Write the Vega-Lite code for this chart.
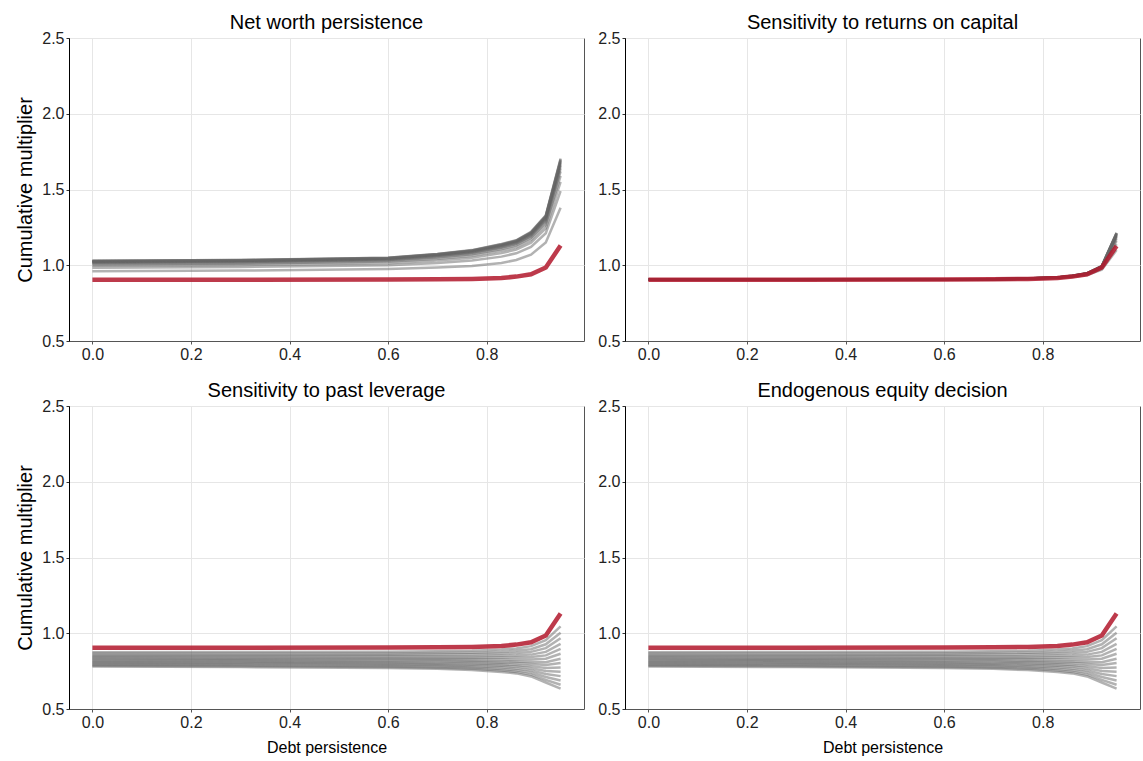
{
  "$schema": "https://vega.github.io/schema/vega-lite/v6.json",
  "padding": {"left": 15, "top": 12, "right": 3, "bottom": 3},
  "background": "white",
  "config": {
    "font": "Liberation Sans",
    "view": {"stroke": "#555555", "strokeWidth": 1},
    "axis": {"grid": true, "gridColor": "#e6e6e6", "gridWidth": 1, "labelFont": "Liberation Sans", "labelFontSize": 16, "labelColor": "#222222", "tickSize": 3, "labelPadding": 2, "titleFont": "Liberation Sans", "titleFontSize": 20, "titleFontWeight": "normal", "titleColor": "#000000", "titlePadding": 6},
    "title": {"font": "Liberation Sans", "fontSize": 20, "fontWeight": "normal", "anchor": "middle", "offset": -3, "color": "#000000"}
  },
  "datasets": {
    "red": [
      {"p":1,"x":0,"y":0.905},{"p":1,"x":0.3,"y":0.905},{"p":1,"x":0.6,"y":0.906},{"p":1,"x":0.7,"y":0.907},{"p":1,"x":0.77,"y":0.91},{"p":1,"x":0.83,"y":0.916},{"p":1,"x":0.86,"y":0.925},{"p":1,"x":0.89,"y":0.94},{"p":1,"x":0.92,"y":0.985},{"p":1,"x":0.95,"y":1.13},
      {"p":2,"x":0,"y":0.905},{"p":2,"x":0.3,"y":0.905},{"p":2,"x":0.6,"y":0.906},{"p":2,"x":0.7,"y":0.907},{"p":2,"x":0.77,"y":0.91},{"p":2,"x":0.83,"y":0.916},{"p":2,"x":0.86,"y":0.925},{"p":2,"x":0.89,"y":0.94},{"p":2,"x":0.92,"y":0.985},{"p":2,"x":0.95,"y":1.127},
      {"p":3,"x":0,"y":0.905},{"p":3,"x":0.3,"y":0.905},{"p":3,"x":0.6,"y":0.906},{"p":3,"x":0.7,"y":0.907},{"p":3,"x":0.77,"y":0.91},{"p":3,"x":0.83,"y":0.916},{"p":3,"x":0.86,"y":0.925},{"p":3,"x":0.89,"y":0.94},{"p":3,"x":0.92,"y":0.985},{"p":3,"x":0.95,"y":1.13},
      {"p":4,"x":0,"y":0.905},{"p":4,"x":0.3,"y":0.905},{"p":4,"x":0.6,"y":0.906},{"p":4,"x":0.7,"y":0.907},{"p":4,"x":0.77,"y":0.91},{"p":4,"x":0.83,"y":0.916},{"p":4,"x":0.86,"y":0.925},{"p":4,"x":0.89,"y":0.94},{"p":4,"x":0.92,"y":0.985},{"p":4,"x":0.95,"y":1.13}
    ],
    "gray": [
      {"p":1,"s":1,"x":0,"y":0.96},{"p":1,"s":1,"x":0.3,"y":0.965},{"p":1,"s":1,"x":0.6,"y":0.975},{"p":1,"s":1,"x":0.7,"y":0.985},{"p":1,"s":1,"x":0.77,"y":0.995},{"p":1,"s":1,"x":0.83,"y":1.015},{"p":1,"s":1,"x":0.86,"y":1.035},{"p":1,"s":1,"x":0.89,"y":1.07},{"p":1,"s":1,"x":0.92,"y":1.15},{"p":1,"s":1,"x":0.95,"y":1.38},
      {"p":1,"s":2,"x":0,"y":0.984},{"p":1,"s":2,"x":0.3,"y":0.989},{"p":1,"s":2,"x":0.6,"y":1.0},{"p":1,"s":2,"x":0.7,"y":1.015},{"p":1,"s":2,"x":0.77,"y":1.031},{"p":1,"s":2,"x":0.83,"y":1.057},{"p":1,"s":2,"x":0.86,"y":1.079},{"p":1,"s":2,"x":0.89,"y":1.121},{"p":1,"s":2,"x":0.92,"y":1.211},{"p":1,"s":2,"x":0.95,"y":1.49},
      {"p":1,"s":3,"x":0,"y":0.997},{"p":1,"s":3,"x":0.3,"y":1.002},{"p":1,"s":3,"x":0.6,"y":1.014},{"p":1,"s":3,"x":0.7,"y":1.032},{"p":1,"s":3,"x":0.77,"y":1.05},{"p":1,"s":3,"x":0.83,"y":1.08},{"p":1,"s":3,"x":0.86,"y":1.103},{"p":1,"s":3,"x":0.89,"y":1.149},{"p":1,"s":3,"x":0.92,"y":1.244},{"p":1,"s":3,"x":0.95,"y":1.55},
      {"p":1,"s":4,"x":0,"y":1.005},{"p":1,"s":4,"x":0.3,"y":1.01},{"p":1,"s":4,"x":0.6,"y":1.024},{"p":1,"s":4,"x":0.7,"y":1.043},{"p":1,"s":4,"x":0.77,"y":1.063},{"p":1,"s":4,"x":0.83,"y":1.096},{"p":1,"s":4,"x":0.86,"y":1.119},{"p":1,"s":4,"x":0.89,"y":1.167},{"p":1,"s":4,"x":0.92,"y":1.266},{"p":1,"s":4,"x":0.95,"y":1.59},
      {"p":1,"s":5,"x":0,"y":1.012},{"p":1,"s":5,"x":0.3,"y":1.017},{"p":1,"s":5,"x":0.6,"y":1.03},{"p":1,"s":5,"x":0.7,"y":1.051},{"p":1,"s":5,"x":0.77,"y":1.073},{"p":1,"s":5,"x":0.83,"y":1.107},{"p":1,"s":5,"x":0.86,"y":1.131},{"p":1,"s":5,"x":0.89,"y":1.181},{"p":1,"s":5,"x":0.92,"y":1.283},{"p":1,"s":5,"x":0.95,"y":1.62},
      {"p":1,"s":6,"x":0,"y":1.016},{"p":1,"s":6,"x":0.3,"y":1.021},{"p":1,"s":6,"x":0.6,"y":1.035},{"p":1,"s":6,"x":0.7,"y":1.057},{"p":1,"s":6,"x":0.77,"y":1.079},{"p":1,"s":6,"x":0.83,"y":1.115},{"p":1,"s":6,"x":0.86,"y":1.139},{"p":1,"s":6,"x":0.89,"y":1.19},{"p":1,"s":6,"x":0.92,"y":1.294},{"p":1,"s":6,"x":0.95,"y":1.64},
      {"p":1,"s":7,"x":0,"y":1.019},{"p":1,"s":7,"x":0.3,"y":1.024},{"p":1,"s":7,"x":0.6,"y":1.039},{"p":1,"s":7,"x":0.7,"y":1.061},{"p":1,"s":7,"x":0.77,"y":1.084},{"p":1,"s":7,"x":0.83,"y":1.121},{"p":1,"s":7,"x":0.86,"y":1.145},{"p":1,"s":7,"x":0.89,"y":1.197},{"p":1,"s":7,"x":0.92,"y":1.302},{"p":1,"s":7,"x":0.95,"y":1.655},
      {"p":1,"s":8,"x":0,"y":1.021},{"p":1,"s":8,"x":0.3,"y":1.026},{"p":1,"s":8,"x":0.6,"y":1.041},{"p":1,"s":8,"x":0.7,"y":1.064},{"p":1,"s":8,"x":0.77,"y":1.087},{"p":1,"s":8,"x":0.83,"y":1.125},{"p":1,"s":8,"x":0.86,"y":1.149},{"p":1,"s":8,"x":0.89,"y":1.202},{"p":1,"s":8,"x":0.92,"y":1.308},{"p":1,"s":8,"x":0.95,"y":1.665},
      {"p":1,"s":9,"x":0,"y":1.024},{"p":1,"s":9,"x":0.3,"y":1.029},{"p":1,"s":9,"x":0.6,"y":1.043},{"p":1,"s":9,"x":0.7,"y":1.067},{"p":1,"s":9,"x":0.77,"y":1.09},{"p":1,"s":9,"x":0.83,"y":1.129},{"p":1,"s":9,"x":0.86,"y":1.153},{"p":1,"s":9,"x":0.89,"y":1.206},{"p":1,"s":9,"x":0.92,"y":1.313},{"p":1,"s":9,"x":0.95,"y":1.675},
      {"p":1,"s":10,"x":0,"y":1.025},{"p":1,"s":10,"x":0.3,"y":1.03},{"p":1,"s":10,"x":0.6,"y":1.045},{"p":1,"s":10,"x":0.7,"y":1.069},{"p":1,"s":10,"x":0.77,"y":1.093},{"p":1,"s":10,"x":0.83,"y":1.132},{"p":1,"s":10,"x":0.86,"y":1.156},{"p":1,"s":10,"x":0.89,"y":1.21},{"p":1,"s":10,"x":0.92,"y":1.318},{"p":1,"s":10,"x":0.95,"y":1.683},
      {"p":1,"s":11,"x":0,"y":1.027},{"p":1,"s":11,"x":0.3,"y":1.032},{"p":1,"s":11,"x":0.6,"y":1.047},{"p":1,"s":11,"x":0.7,"y":1.071},{"p":1,"s":11,"x":0.77,"y":1.095},{"p":1,"s":11,"x":0.83,"y":1.134},{"p":1,"s":11,"x":0.86,"y":1.159},{"p":1,"s":11,"x":0.89,"y":1.213},{"p":1,"s":11,"x":0.92,"y":1.322},{"p":1,"s":11,"x":0.95,"y":1.69},
      {"p":1,"s":12,"x":0,"y":1.028},{"p":1,"s":12,"x":0.3,"y":1.033},{"p":1,"s":12,"x":0.6,"y":1.048},{"p":1,"s":12,"x":0.7,"y":1.072},{"p":1,"s":12,"x":0.77,"y":1.097},{"p":1,"s":12,"x":0.83,"y":1.136},{"p":1,"s":12,"x":0.86,"y":1.161},{"p":1,"s":12,"x":0.89,"y":1.215},{"p":1,"s":12,"x":0.92,"y":1.324},{"p":1,"s":12,"x":0.95,"y":1.695},
      {"p":1,"s":13,"x":0,"y":1.029},{"p":1,"s":13,"x":0.3,"y":1.034},{"p":1,"s":13,"x":0.6,"y":1.049},{"p":1,"s":13,"x":0.7,"y":1.074},{"p":1,"s":13,"x":0.77,"y":1.098},{"p":1,"s":13,"x":0.83,"y":1.138},{"p":1,"s":13,"x":0.86,"y":1.163},{"p":1,"s":13,"x":0.89,"y":1.218},{"p":1,"s":13,"x":0.92,"y":1.327},{"p":1,"s":13,"x":0.95,"y":1.7},
      {"p":1,"s":14,"x":0,"y":1.03},{"p":1,"s":14,"x":0.3,"y":1.035},{"p":1,"s":14,"x":0.6,"y":1.05},{"p":1,"s":14,"x":0.7,"y":1.075},{"p":1,"s":14,"x":0.77,"y":1.1},{"p":1,"s":14,"x":0.83,"y":1.14},{"p":1,"s":14,"x":0.86,"y":1.165},{"p":1,"s":14,"x":0.89,"y":1.22},{"p":1,"s":14,"x":0.92,"y":1.33},{"p":1,"s":14,"x":0.95,"y":1.705},

      {"p":2,"s":1,"x":0,"y":0.905},{"p":2,"s":1,"x":0.3,"y":0.905},{"p":2,"s":1,"x":0.6,"y":0.906},{"p":2,"s":1,"x":0.7,"y":0.907},{"p":2,"s":1,"x":0.77,"y":0.91},{"p":2,"s":1,"x":0.83,"y":0.915},{"p":2,"s":1,"x":0.86,"y":0.922},{"p":2,"s":1,"x":0.89,"y":0.935},{"p":2,"s":1,"x":0.92,"y":0.97},{"p":2,"s":1,"x":0.95,"y":1.1},
      {"p":2,"s":2,"x":0,"y":0.905},{"p":2,"s":2,"x":0.3,"y":0.905},{"p":2,"s":2,"x":0.6,"y":0.906},{"p":2,"s":2,"x":0.7,"y":0.907},{"p":2,"s":2,"x":0.77,"y":0.911},{"p":2,"s":2,"x":0.83,"y":0.917},{"p":2,"s":2,"x":0.86,"y":0.925},{"p":2,"s":2,"x":0.89,"y":0.939},{"p":2,"s":2,"x":0.92,"y":0.979},{"p":2,"s":2,"x":0.95,"y":1.139},
      {"p":2,"s":3,"x":0,"y":0.905},{"p":2,"s":3,"x":0.3,"y":0.905},{"p":2,"s":3,"x":0.6,"y":0.906},{"p":2,"s":3,"x":0.7,"y":0.908},{"p":2,"s":3,"x":0.77,"y":0.911},{"p":2,"s":3,"x":0.83,"y":0.918},{"p":2,"s":3,"x":0.86,"y":0.926},{"p":2,"s":3,"x":0.89,"y":0.941},{"p":2,"s":3,"x":0.92,"y":0.983},{"p":2,"s":3,"x":0.95,"y":1.16},
      {"p":2,"s":4,"x":0,"y":0.905},{"p":2,"s":4,"x":0.3,"y":0.905},{"p":2,"s":4,"x":0.6,"y":0.906},{"p":2,"s":4,"x":0.7,"y":0.908},{"p":2,"s":4,"x":0.77,"y":0.911},{"p":2,"s":4,"x":0.83,"y":0.918},{"p":2,"s":4,"x":0.86,"y":0.927},{"p":2,"s":4,"x":0.89,"y":0.943},{"p":2,"s":4,"x":0.92,"y":0.986},{"p":2,"s":4,"x":0.95,"y":1.174},
      {"p":2,"s":5,"x":0,"y":0.905},{"p":2,"s":5,"x":0.3,"y":0.905},{"p":2,"s":5,"x":0.6,"y":0.906},{"p":2,"s":5,"x":0.7,"y":0.908},{"p":2,"s":5,"x":0.77,"y":0.912},{"p":2,"s":5,"x":0.83,"y":0.919},{"p":2,"s":5,"x":0.86,"y":0.928},{"p":2,"s":5,"x":0.89,"y":0.944},{"p":2,"s":5,"x":0.92,"y":0.989},{"p":2,"s":5,"x":0.95,"y":1.185},
      {"p":2,"s":6,"x":0,"y":0.905},{"p":2,"s":6,"x":0.3,"y":0.905},{"p":2,"s":6,"x":0.6,"y":0.906},{"p":2,"s":6,"x":0.7,"y":0.908},{"p":2,"s":6,"x":0.77,"y":0.912},{"p":2,"s":6,"x":0.83,"y":0.919},{"p":2,"s":6,"x":0.86,"y":0.928},{"p":2,"s":6,"x":0.89,"y":0.945},{"p":2,"s":6,"x":0.92,"y":0.99},{"p":2,"s":6,"x":0.95,"y":1.192},
      {"p":2,"s":7,"x":0,"y":0.905},{"p":2,"s":7,"x":0.3,"y":0.905},{"p":2,"s":7,"x":0.6,"y":0.906},{"p":2,"s":7,"x":0.7,"y":0.908},{"p":2,"s":7,"x":0.77,"y":0.912},{"p":2,"s":7,"x":0.83,"y":0.919},{"p":2,"s":7,"x":0.86,"y":0.929},{"p":2,"s":7,"x":0.89,"y":0.945},{"p":2,"s":7,"x":0.92,"y":0.991},{"p":2,"s":7,"x":0.95,"y":1.197},
      {"p":2,"s":8,"x":0,"y":0.905},{"p":2,"s":8,"x":0.3,"y":0.905},{"p":2,"s":8,"x":0.6,"y":0.906},{"p":2,"s":8,"x":0.7,"y":0.908},{"p":2,"s":8,"x":0.77,"y":0.912},{"p":2,"s":8,"x":0.83,"y":0.919},{"p":2,"s":8,"x":0.86,"y":0.929},{"p":2,"s":8,"x":0.89,"y":0.946},{"p":2,"s":8,"x":0.92,"y":0.992},{"p":2,"s":8,"x":0.95,"y":1.201},
      {"p":2,"s":9,"x":0,"y":0.905},{"p":2,"s":9,"x":0.3,"y":0.905},{"p":2,"s":9,"x":0.6,"y":0.906},{"p":2,"s":9,"x":0.7,"y":0.908},{"p":2,"s":9,"x":0.77,"y":0.912},{"p":2,"s":9,"x":0.83,"y":0.92},{"p":2,"s":9,"x":0.86,"y":0.929},{"p":2,"s":9,"x":0.89,"y":0.946},{"p":2,"s":9,"x":0.92,"y":0.993},{"p":2,"s":9,"x":0.95,"y":1.204},
      {"p":2,"s":10,"x":0,"y":0.905},{"p":2,"s":10,"x":0.3,"y":0.905},{"p":2,"s":10,"x":0.6,"y":0.906},{"p":2,"s":10,"x":0.7,"y":0.908},{"p":2,"s":10,"x":0.77,"y":0.912},{"p":2,"s":10,"x":0.83,"y":0.92},{"p":2,"s":10,"x":0.86,"y":0.929},{"p":2,"s":10,"x":0.89,"y":0.946},{"p":2,"s":10,"x":0.92,"y":0.993},{"p":2,"s":10,"x":0.95,"y":1.207},
      {"p":2,"s":11,"x":0,"y":0.905},{"p":2,"s":11,"x":0.3,"y":0.905},{"p":2,"s":11,"x":0.6,"y":0.906},{"p":2,"s":11,"x":0.7,"y":0.908},{"p":2,"s":11,"x":0.77,"y":0.912},{"p":2,"s":11,"x":0.83,"y":0.92},{"p":2,"s":11,"x":0.86,"y":0.93},{"p":2,"s":11,"x":0.89,"y":0.946},{"p":2,"s":11,"x":0.92,"y":0.994},{"p":2,"s":11,"x":0.95,"y":1.21},
      {"p":2,"s":12,"x":0,"y":0.905},{"p":2,"s":12,"x":0.3,"y":0.905},{"p":2,"s":12,"x":0.6,"y":0.906},{"p":2,"s":12,"x":0.7,"y":0.908},{"p":2,"s":12,"x":0.77,"y":0.912},{"p":2,"s":12,"x":0.83,"y":0.92},{"p":2,"s":12,"x":0.86,"y":0.93},{"p":2,"s":12,"x":0.89,"y":0.947},{"p":2,"s":12,"x":0.92,"y":0.994},{"p":2,"s":12,"x":0.95,"y":1.211},
      {"p":2,"s":13,"x":0,"y":0.905},{"p":2,"s":13,"x":0.3,"y":0.905},{"p":2,"s":13,"x":0.6,"y":0.906},{"p":2,"s":13,"x":0.7,"y":0.908},{"p":2,"s":13,"x":0.77,"y":0.912},{"p":2,"s":13,"x":0.83,"y":0.92},{"p":2,"s":13,"x":0.86,"y":0.93},{"p":2,"s":13,"x":0.89,"y":0.947},{"p":2,"s":13,"x":0.92,"y":0.995},{"p":2,"s":13,"x":0.95,"y":1.213},
      {"p":2,"s":14,"x":0,"y":0.905},{"p":2,"s":14,"x":0.3,"y":0.905},{"p":2,"s":14,"x":0.6,"y":0.906},{"p":2,"s":14,"x":0.7,"y":0.908},{"p":2,"s":14,"x":0.77,"y":0.912},{"p":2,"s":14,"x":0.83,"y":0.92},{"p":2,"s":14,"x":0.86,"y":0.93},{"p":2,"s":14,"x":0.89,"y":0.947},{"p":2,"s":14,"x":0.92,"y":0.995},{"p":2,"s":14,"x":0.95,"y":1.215},

      {"p":3,"s":1,"x":0,"y":0.875},{"p":3,"s":1,"x":0.3,"y":0.876},{"p":3,"s":1,"x":0.6,"y":0.878},{"p":3,"s":1,"x":0.7,"y":0.881},{"p":3,"s":1,"x":0.77,"y":0.885},{"p":3,"s":1,"x":0.83,"y":0.893},{"p":3,"s":1,"x":0.86,"y":0.9},{"p":3,"s":1,"x":0.89,"y":0.915},{"p":3,"s":1,"x":0.92,"y":0.955},{"p":3,"s":1,"x":0.95,"y":1.045},
      {"p":3,"s":2,"x":0,"y":0.866},{"p":3,"s":2,"x":0.3,"y":0.866},{"p":3,"s":2,"x":0.6,"y":0.867},{"p":3,"s":2,"x":0.7,"y":0.869},{"p":3,"s":2,"x":0.77,"y":0.872},{"p":3,"s":2,"x":0.83,"y":0.878},{"p":3,"s":2,"x":0.86,"y":0.884},{"p":3,"s":2,"x":0.89,"y":0.895},{"p":3,"s":2,"x":0.92,"y":0.927},{"p":3,"s":2,"x":0.95,"y":1.004},
      {"p":3,"s":3,"x":0,"y":0.857},{"p":3,"s":3,"x":0.3,"y":0.857},{"p":3,"s":3,"x":0.6,"y":0.858},{"p":3,"s":3,"x":0.7,"y":0.859},{"p":3,"s":3,"x":0.77,"y":0.861},{"p":3,"s":3,"x":0.83,"y":0.865},{"p":3,"s":3,"x":0.86,"y":0.869},{"p":3,"s":3,"x":0.89,"y":0.877},{"p":3,"s":3,"x":0.92,"y":0.902},{"p":3,"s":3,"x":0.95,"y":0.967},
      {"p":3,"s":4,"x":0,"y":0.848},{"p":3,"s":4,"x":0.3,"y":0.848},{"p":3,"s":4,"x":0.6,"y":0.848},{"p":3,"s":4,"x":0.7,"y":0.849},{"p":3,"s":4,"x":0.77,"y":0.849},{"p":3,"s":4,"x":0.83,"y":0.852},{"p":3,"s":4,"x":0.86,"y":0.854},{"p":3,"s":4,"x":0.89,"y":0.859},{"p":3,"s":4,"x":0.92,"y":0.877},{"p":3,"s":4,"x":0.95,"y":0.93},
      {"p":3,"s":5,"x":0,"y":0.841},{"p":3,"s":5,"x":0.3,"y":0.84},{"p":3,"s":5,"x":0.6,"y":0.839},{"p":3,"s":5,"x":0.7,"y":0.839},{"p":3,"s":5,"x":0.77,"y":0.839},{"p":3,"s":5,"x":0.83,"y":0.84},{"p":3,"s":5,"x":0.86,"y":0.841},{"p":3,"s":5,"x":0.89,"y":0.843},{"p":3,"s":5,"x":0.92,"y":0.854},{"p":3,"s":5,"x":0.95,"y":0.897},
      {"p":3,"s":6,"x":0,"y":0.833},{"p":3,"s":6,"x":0.3,"y":0.832},{"p":3,"s":6,"x":0.6,"y":0.831},{"p":3,"s":6,"x":0.7,"y":0.83},{"p":3,"s":6,"x":0.77,"y":0.829},{"p":3,"s":6,"x":0.83,"y":0.828},{"p":3,"s":6,"x":0.86,"y":0.827},{"p":3,"s":6,"x":0.89,"y":0.827},{"p":3,"s":6,"x":0.92,"y":0.832},{"p":3,"s":6,"x":0.95,"y":0.865},
      {"p":3,"s":7,"x":0,"y":0.826},{"p":3,"s":7,"x":0.3,"y":0.825},{"p":3,"s":7,"x":0.6,"y":0.822},{"p":3,"s":7,"x":0.7,"y":0.821},{"p":3,"s":7,"x":0.77,"y":0.818},{"p":3,"s":7,"x":0.83,"y":0.816},{"p":3,"s":7,"x":0.86,"y":0.814},{"p":3,"s":7,"x":0.89,"y":0.811},{"p":3,"s":7,"x":0.92,"y":0.809},{"p":3,"s":7,"x":0.95,"y":0.832},
      {"p":3,"s":8,"x":0,"y":0.819},{"p":3,"s":8,"x":0.3,"y":0.818},{"p":3,"s":8,"x":0.6,"y":0.814},{"p":3,"s":8,"x":0.7,"y":0.813},{"p":3,"s":8,"x":0.77,"y":0.81},{"p":3,"s":8,"x":0.83,"y":0.806},{"p":3,"s":8,"x":0.86,"y":0.803},{"p":3,"s":8,"x":0.89,"y":0.797},{"p":3,"s":8,"x":0.92,"y":0.79},{"p":3,"s":8,"x":0.95,"y":0.803},
      {"p":3,"s":9,"x":0,"y":0.812},{"p":3,"s":9,"x":0.3,"y":0.811},{"p":3,"s":9,"x":0.6,"y":0.807},{"p":3,"s":9,"x":0.7,"y":0.804},{"p":3,"s":9,"x":0.77,"y":0.801},{"p":3,"s":9,"x":0.83,"y":0.795},{"p":3,"s":9,"x":0.86,"y":0.791},{"p":3,"s":9,"x":0.89,"y":0.783},{"p":3,"s":9,"x":0.92,"y":0.77},{"p":3,"s":9,"x":0.95,"y":0.774},
      {"p":3,"s":10,"x":0,"y":0.806},{"p":3,"s":10,"x":0.3,"y":0.804},{"p":3,"s":10,"x":0.6,"y":0.799},{"p":3,"s":10,"x":0.7,"y":0.796},{"p":3,"s":10,"x":0.77,"y":0.792},{"p":3,"s":10,"x":0.83,"y":0.785},{"p":3,"s":10,"x":0.86,"y":0.78},{"p":3,"s":10,"x":0.89,"y":0.769},{"p":3,"s":10,"x":0.92,"y":0.751},{"p":3,"s":10,"x":0.95,"y":0.746},
      {"p":3,"s":11,"x":0,"y":0.799},{"p":3,"s":11,"x":0.3,"y":0.797},{"p":3,"s":11,"x":0.6,"y":0.792},{"p":3,"s":11,"x":0.7,"y":0.788},{"p":3,"s":11,"x":0.77,"y":0.783},{"p":3,"s":11,"x":0.83,"y":0.775},{"p":3,"s":11,"x":0.86,"y":0.768},{"p":3,"s":11,"x":0.89,"y":0.755},{"p":3,"s":11,"x":0.92,"y":0.731},{"p":3,"s":11,"x":0.95,"y":0.717},
      {"p":3,"s":12,"x":0,"y":0.792},{"p":3,"s":12,"x":0.3,"y":0.79},{"p":3,"s":12,"x":0.6,"y":0.784},{"p":3,"s":12,"x":0.7,"y":0.78},{"p":3,"s":12,"x":0.77,"y":0.774},{"p":3,"s":12,"x":0.83,"y":0.764},{"p":3,"s":12,"x":0.86,"y":0.756},{"p":3,"s":12,"x":0.89,"y":0.741},{"p":3,"s":12,"x":0.92,"y":0.711},{"p":3,"s":12,"x":0.95,"y":0.688},
      {"p":3,"s":13,"x":0,"y":0.786},{"p":3,"s":13,"x":0.3,"y":0.783},{"p":3,"s":13,"x":0.6,"y":0.777},{"p":3,"s":13,"x":0.7,"y":0.772},{"p":3,"s":13,"x":0.77,"y":0.765},{"p":3,"s":13,"x":0.83,"y":0.754},{"p":3,"s":13,"x":0.86,"y":0.745},{"p":3,"s":13,"x":0.89,"y":0.727},{"p":3,"s":13,"x":0.92,"y":0.692},{"p":3,"s":13,"x":0.95,"y":0.66},
      {"p":3,"s":14,"x":0,"y":0.78},{"p":3,"s":14,"x":0.3,"y":0.777},{"p":3,"s":14,"x":0.6,"y":0.77},{"p":3,"s":14,"x":0.7,"y":0.765},{"p":3,"s":14,"x":0.77,"y":0.757},{"p":3,"s":14,"x":0.83,"y":0.745},{"p":3,"s":14,"x":0.86,"y":0.735},{"p":3,"s":14,"x":0.89,"y":0.715},{"p":3,"s":14,"x":0.92,"y":0.675},{"p":3,"s":14,"x":0.95,"y":0.635},

      {"p":4,"s":1,"x":0,"y":0.875},{"p":4,"s":1,"x":0.3,"y":0.876},{"p":4,"s":1,"x":0.6,"y":0.878},{"p":4,"s":1,"x":0.7,"y":0.881},{"p":4,"s":1,"x":0.77,"y":0.885},{"p":4,"s":1,"x":0.83,"y":0.893},{"p":4,"s":1,"x":0.86,"y":0.9},{"p":4,"s":1,"x":0.89,"y":0.915},{"p":4,"s":1,"x":0.92,"y":0.955},{"p":4,"s":1,"x":0.95,"y":1.045},
      {"p":4,"s":2,"x":0,"y":0.866},{"p":4,"s":2,"x":0.3,"y":0.866},{"p":4,"s":2,"x":0.6,"y":0.867},{"p":4,"s":2,"x":0.7,"y":0.869},{"p":4,"s":2,"x":0.77,"y":0.872},{"p":4,"s":2,"x":0.83,"y":0.878},{"p":4,"s":2,"x":0.86,"y":0.884},{"p":4,"s":2,"x":0.89,"y":0.895},{"p":4,"s":2,"x":0.92,"y":0.927},{"p":4,"s":2,"x":0.95,"y":1.004},
      {"p":4,"s":3,"x":0,"y":0.857},{"p":4,"s":3,"x":0.3,"y":0.857},{"p":4,"s":3,"x":0.6,"y":0.858},{"p":4,"s":3,"x":0.7,"y":0.859},{"p":4,"s":3,"x":0.77,"y":0.861},{"p":4,"s":3,"x":0.83,"y":0.865},{"p":4,"s":3,"x":0.86,"y":0.869},{"p":4,"s":3,"x":0.89,"y":0.877},{"p":4,"s":3,"x":0.92,"y":0.902},{"p":4,"s":3,"x":0.95,"y":0.967},
      {"p":4,"s":4,"x":0,"y":0.848},{"p":4,"s":4,"x":0.3,"y":0.848},{"p":4,"s":4,"x":0.6,"y":0.848},{"p":4,"s":4,"x":0.7,"y":0.849},{"p":4,"s":4,"x":0.77,"y":0.849},{"p":4,"s":4,"x":0.83,"y":0.852},{"p":4,"s":4,"x":0.86,"y":0.854},{"p":4,"s":4,"x":0.89,"y":0.859},{"p":4,"s":4,"x":0.92,"y":0.877},{"p":4,"s":4,"x":0.95,"y":0.93},
      {"p":4,"s":5,"x":0,"y":0.841},{"p":4,"s":5,"x":0.3,"y":0.84},{"p":4,"s":5,"x":0.6,"y":0.839},{"p":4,"s":5,"x":0.7,"y":0.839},{"p":4,"s":5,"x":0.77,"y":0.839},{"p":4,"s":5,"x":0.83,"y":0.84},{"p":4,"s":5,"x":0.86,"y":0.841},{"p":4,"s":5,"x":0.89,"y":0.843},{"p":4,"s":5,"x":0.92,"y":0.854},{"p":4,"s":5,"x":0.95,"y":0.897},
      {"p":4,"s":6,"x":0,"y":0.833},{"p":4,"s":6,"x":0.3,"y":0.832},{"p":4,"s":6,"x":0.6,"y":0.831},{"p":4,"s":6,"x":0.7,"y":0.83},{"p":4,"s":6,"x":0.77,"y":0.829},{"p":4,"s":6,"x":0.83,"y":0.828},{"p":4,"s":6,"x":0.86,"y":0.827},{"p":4,"s":6,"x":0.89,"y":0.827},{"p":4,"s":6,"x":0.92,"y":0.832},{"p":4,"s":6,"x":0.95,"y":0.865},
      {"p":4,"s":7,"x":0,"y":0.826},{"p":4,"s":7,"x":0.3,"y":0.825},{"p":4,"s":7,"x":0.6,"y":0.822},{"p":4,"s":7,"x":0.7,"y":0.821},{"p":4,"s":7,"x":0.77,"y":0.818},{"p":4,"s":7,"x":0.83,"y":0.816},{"p":4,"s":7,"x":0.86,"y":0.814},{"p":4,"s":7,"x":0.89,"y":0.811},{"p":4,"s":7,"x":0.92,"y":0.809},{"p":4,"s":7,"x":0.95,"y":0.832},
      {"p":4,"s":8,"x":0,"y":0.819},{"p":4,"s":8,"x":0.3,"y":0.818},{"p":4,"s":8,"x":0.6,"y":0.814},{"p":4,"s":8,"x":0.7,"y":0.813},{"p":4,"s":8,"x":0.77,"y":0.81},{"p":4,"s":8,"x":0.83,"y":0.806},{"p":4,"s":8,"x":0.86,"y":0.803},{"p":4,"s":8,"x":0.89,"y":0.797},{"p":4,"s":8,"x":0.92,"y":0.79},{"p":4,"s":8,"x":0.95,"y":0.803},
      {"p":4,"s":9,"x":0,"y":0.812},{"p":4,"s":9,"x":0.3,"y":0.811},{"p":4,"s":9,"x":0.6,"y":0.807},{"p":4,"s":9,"x":0.7,"y":0.804},{"p":4,"s":9,"x":0.77,"y":0.801},{"p":4,"s":9,"x":0.83,"y":0.795},{"p":4,"s":9,"x":0.86,"y":0.791},{"p":4,"s":9,"x":0.89,"y":0.783},{"p":4,"s":9,"x":0.92,"y":0.77},{"p":4,"s":9,"x":0.95,"y":0.774},
      {"p":4,"s":10,"x":0,"y":0.806},{"p":4,"s":10,"x":0.3,"y":0.804},{"p":4,"s":10,"x":0.6,"y":0.799},{"p":4,"s":10,"x":0.7,"y":0.796},{"p":4,"s":10,"x":0.77,"y":0.792},{"p":4,"s":10,"x":0.83,"y":0.785},{"p":4,"s":10,"x":0.86,"y":0.78},{"p":4,"s":10,"x":0.89,"y":0.769},{"p":4,"s":10,"x":0.92,"y":0.751},{"p":4,"s":10,"x":0.95,"y":0.746},
      {"p":4,"s":11,"x":0,"y":0.799},{"p":4,"s":11,"x":0.3,"y":0.797},{"p":4,"s":11,"x":0.6,"y":0.792},{"p":4,"s":11,"x":0.7,"y":0.788},{"p":4,"s":11,"x":0.77,"y":0.783},{"p":4,"s":11,"x":0.83,"y":0.775},{"p":4,"s":11,"x":0.86,"y":0.768},{"p":4,"s":11,"x":0.89,"y":0.755},{"p":4,"s":11,"x":0.92,"y":0.731},{"p":4,"s":11,"x":0.95,"y":0.717},
      {"p":4,"s":12,"x":0,"y":0.792},{"p":4,"s":12,"x":0.3,"y":0.79},{"p":4,"s":12,"x":0.6,"y":0.784},{"p":4,"s":12,"x":0.7,"y":0.78},{"p":4,"s":12,"x":0.77,"y":0.774},{"p":4,"s":12,"x":0.83,"y":0.764},{"p":4,"s":12,"x":0.86,"y":0.756},{"p":4,"s":12,"x":0.89,"y":0.741},{"p":4,"s":12,"x":0.92,"y":0.711},{"p":4,"s":12,"x":0.95,"y":0.688},
      {"p":4,"s":13,"x":0,"y":0.786},{"p":4,"s":13,"x":0.3,"y":0.783},{"p":4,"s":13,"x":0.6,"y":0.777},{"p":4,"s":13,"x":0.7,"y":0.772},{"p":4,"s":13,"x":0.77,"y":0.765},{"p":4,"s":13,"x":0.83,"y":0.754},{"p":4,"s":13,"x":0.86,"y":0.745},{"p":4,"s":13,"x":0.89,"y":0.727},{"p":4,"s":13,"x":0.92,"y":0.692},{"p":4,"s":13,"x":0.95,"y":0.66},
      {"p":4,"s":14,"x":0,"y":0.78},{"p":4,"s":14,"x":0.3,"y":0.777},{"p":4,"s":14,"x":0.6,"y":0.77},{"p":4,"s":14,"x":0.7,"y":0.765},{"p":4,"s":14,"x":0.77,"y":0.757},{"p":4,"s":14,"x":0.83,"y":0.745},{"p":4,"s":14,"x":0.86,"y":0.735},{"p":4,"s":14,"x":0.89,"y":0.715},{"p":4,"s":14,"x":0.92,"y":0.675},{"p":4,"s":14,"x":0.95,"y":0.635}
    ]
  },
  "spacing": 17,
  "vconcat": [
    {
      "spacing": 12,
      "hconcat": [
        {
          "width": 515, "height": 303,
          "title": {"text": "Net worth persistence"},
          "layer": [
            {"data": {"name": "gray"}, "transform": [{"filter": "datum.p == 1"}],
             "mark": {"type": "line", "color": "#666666", "opacity": 0.5, "strokeWidth": 2.5},
             "encoding": {
               "x": {"field": "x", "type": "quantitative", "scale": {"domain": [-0.0475, 0.9975], "nice": false, "zero": false}, "axis": {"values": [0, 0.2, 0.4, 0.6, 0.8], "format": ".1f", "title": null, "domainColor": "#555555", "tickColor": "#555555"}},
               "y": {"field": "y", "type": "quantitative", "scale": {"domain": [0.5, 2.5], "nice": false, "zero": false}, "axis": {"values": [0.5, 1, 1.5, 2, 2.5], "format": ".1f", "title": "Cumulative multiplier", "domainColor": "#000000", "tickColor": "#333333"}},
               "detail": {"field": "s", "type": "nominal"}
             }},
            {"data": {"name": "red"}, "transform": [{"filter": "datum.p == 1"}],
             "mark": {"type": "line", "color": "#b2182b", "opacity": 0.85, "strokeWidth": 4.5},
             "encoding": {"x": {"field": "x", "type": "quantitative"}, "y": {"field": "y", "type": "quantitative"}}}
          ]
        },
        {
          "width": 515, "height": 303,
          "title": {"text": "Sensitivity to returns on capital"},
          "layer": [
            {"data": {"name": "gray"}, "transform": [{"filter": "datum.p == 2"}],
             "mark": {"type": "line", "color": "#666666", "opacity": 0.5, "strokeWidth": 2.5},
             "encoding": {
               "x": {"field": "x", "type": "quantitative", "scale": {"domain": [-0.0475, 0.9975], "nice": false, "zero": false}, "axis": {"values": [0, 0.2, 0.4, 0.6, 0.8], "format": ".1f", "title": null, "domainColor": "#555555", "tickColor": "#555555"}},
               "y": {"field": "y", "type": "quantitative", "scale": {"domain": [0.5, 2.5], "nice": false, "zero": false}, "axis": {"values": [0.5, 1, 1.5, 2, 2.5], "format": ".1f", "title": null, "domainColor": "#000000", "tickColor": "#333333"}},
               "detail": {"field": "s", "type": "nominal"}
             }},
            {"data": {"name": "red"}, "transform": [{"filter": "datum.p == 2"}],
             "mark": {"type": "line", "color": "#b2182b", "opacity": 0.85, "strokeWidth": 4.5},
             "encoding": {"x": {"field": "x", "type": "quantitative"}, "y": {"field": "y", "type": "quantitative"}}}
          ]
        }
      ]
    },
    {
      "spacing": 12,
      "hconcat": [
        {
          "width": 515, "height": 303,
          "title": {"text": "Sensitivity to past leverage"},
          "layer": [
            {"data": {"name": "gray"}, "transform": [{"filter": "datum.p == 3"}],
             "mark": {"type": "line", "color": "#666666", "opacity": 0.5, "strokeWidth": 2.5},
             "encoding": {
               "x": {"field": "x", "type": "quantitative", "scale": {"domain": [-0.0475, 0.9975], "nice": false, "zero": false}, "axis": {"values": [0, 0.2, 0.4, 0.6, 0.8], "format": ".1f", "title": "Debt persistence", "titleFontSize": 16, "titlePadding": 9, "domainColor": "#555555", "tickColor": "#555555"}},
               "y": {"field": "y", "type": "quantitative", "scale": {"domain": [0.5, 2.5], "nice": false, "zero": false}, "axis": {"values": [0.5, 1, 1.5, 2, 2.5], "format": ".1f", "title": "Cumulative multiplier", "domainColor": "#000000", "tickColor": "#333333"}},
               "detail": {"field": "s", "type": "nominal"}
             }},
            {"data": {"name": "red"}, "transform": [{"filter": "datum.p == 3"}],
             "mark": {"type": "line", "color": "#b2182b", "opacity": 0.85, "strokeWidth": 4.5},
             "encoding": {"x": {"field": "x", "type": "quantitative"}, "y": {"field": "y", "type": "quantitative"}}}
          ]
        },
        {
          "width": 515, "height": 303,
          "title": {"text": "Endogenous equity decision"},
          "layer": [
            {"data": {"name": "gray"}, "transform": [{"filter": "datum.p == 4"}],
             "mark": {"type": "line", "color": "#666666", "opacity": 0.5, "strokeWidth": 2.5},
             "encoding": {
               "x": {"field": "x", "type": "quantitative", "scale": {"domain": [-0.0475, 0.9975], "nice": false, "zero": false}, "axis": {"values": [0, 0.2, 0.4, 0.6, 0.8], "format": ".1f", "title": "Debt persistence", "titleFontSize": 16, "titlePadding": 9, "domainColor": "#555555", "tickColor": "#555555"}},
               "y": {"field": "y", "type": "quantitative", "scale": {"domain": [0.5, 2.5], "nice": false, "zero": false}, "axis": {"values": [0.5, 1, 1.5, 2, 2.5], "format": ".1f", "title": null, "domainColor": "#000000", "tickColor": "#333333"}},
               "detail": {"field": "s", "type": "nominal"}
             }},
            {"data": {"name": "red"}, "transform": [{"filter": "datum.p == 4"}],
             "mark": {"type": "line", "color": "#b2182b", "opacity": 0.85, "strokeWidth": 4.5},
             "encoding": {"x": {"field": "x", "type": "quantitative"}, "y": {"field": "y", "type": "quantitative"}}}
          ]
        }
      ]
    }
  ]
}
